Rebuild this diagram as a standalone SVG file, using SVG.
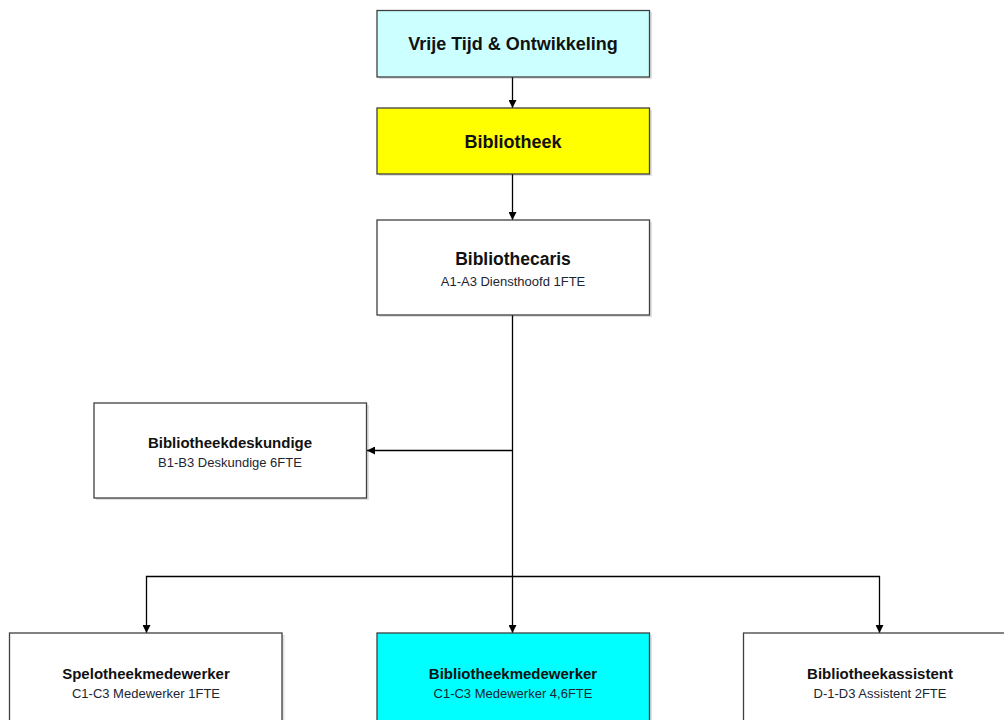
<svg xmlns="http://www.w3.org/2000/svg" width="1004" height="720" viewBox="0 0 1004 720">
<style>
.box{stroke:#404040;stroke-width:1.3}
.sh{fill:#000;opacity:0.12}
.t{font-family:"Liberation Sans",Arial,sans-serif;font-weight:bold;fill:#111;text-anchor:middle}
.s{font-family:"Liberation Sans",Arial,sans-serif;font-size:13px;fill:#1c2533;text-anchor:middle}
.c{fill:none;stroke:#000;stroke-width:1.3}
</style>
<defs>
<marker id="ah" viewBox="0 0 10 10" refX="10" refY="5" markerWidth="8" markerHeight="8" markerUnits="userSpaceOnUse" orient="auto">
<path d="M0,0 L10,5 L0,10 Z" fill="#000"/>
</marker>
</defs>
<rect width="1004" height="720" fill="#fff"/>
<g id="connectors">
<path class="c" d="M512.5,77 V108" marker-end="url(#ah)"/>
<path class="c" d="M512.5,174 V220" marker-end="url(#ah)"/>
<path class="c" d="M512.5,315 V633" marker-end="url(#ah)"/>
<path class="c" d="M512.5,450.5 H367" marker-end="url(#ah)"/>
<path class="c" d="M512.5,576.5 H146.5 V633" marker-end="url(#ah)"/>
<path class="c" d="M512.5,576.5 H879.5 V633" marker-end="url(#ah)"/>
</g>
<g id="vrije-tijd">
<rect class="sh" x="379" y="12" width="273" height="67"/>
<rect class="box" x="377" y="10.5" width="272.5" height="66.5" fill="#ccffff"/>
<text class="t" x="513" y="50" font-size="18">Vrije Tijd &amp; Ontwikkeling</text>
</g>
<g id="bibliotheek">
<rect class="sh" x="379" y="110" width="273" height="66"/>
<rect class="box" x="377" y="108" width="272.5" height="66" fill="#ffff00"/>
<text class="t" x="513" y="147.5" font-size="18">Bibliotheek</text>
</g>
<g id="bibliothecaris">
<rect class="sh" x="379" y="222" width="273" height="95"/>
<rect class="box" x="377" y="220" width="272.5" height="95" fill="#fff"/>
<text class="t" x="513" y="265" font-size="17.5">Bibliothecaris</text>
<text class="s" x="513" y="286">A1-A3 Diensthoofd 1FTE</text>
</g>
<g id="bibliotheekdeskundige">
<rect class="sh" x="96" y="405" width="273" height="95"/>
<rect class="box" x="94" y="403" width="272.5" height="95" fill="#fff"/>
<text class="t" x="230" y="447.5" font-size="15">Bibliotheekdeskundige</text>
<text class="s" x="230" y="467">B1-B3 Deskundige 6FTE</text>
</g>
<g id="spelotheekmedewerker">
<rect class="sh" x="11.5" y="635" width="273" height="95"/>
<rect class="box" x="9.5" y="633" width="272.5" height="95" fill="#fff"/>
<text class="t" x="146" y="678.5" font-size="15">Spelotheekmedewerker</text>
<text class="s" x="146" y="697.5">C1-C3 Medewerker 1FTE</text>
</g>
<g id="bibliotheekmedewerker">
<rect class="sh" x="379" y="635" width="273" height="95"/>
<rect class="box" x="377" y="633" width="272.5" height="95" fill="#00ffff"/>
<text class="t" x="513" y="678.5" font-size="15">Bibliotheekmedewerker</text>
<text class="s" x="513" y="697.5">C1-C3 Medewerker 4,6FTE</text>
</g>
<g id="bibliotheekassistent">
<rect class="sh" x="745.5" y="635" width="273" height="95"/>
<rect class="box" x="743.5" y="633" width="272.5" height="95" fill="#fff"/>
<text class="t" x="880" y="678.5" font-size="15">Bibliotheekassistent</text>
<text class="s" x="880" y="697.5">D-1-D3 Assistent 2FTE</text>
</g>
</svg>
